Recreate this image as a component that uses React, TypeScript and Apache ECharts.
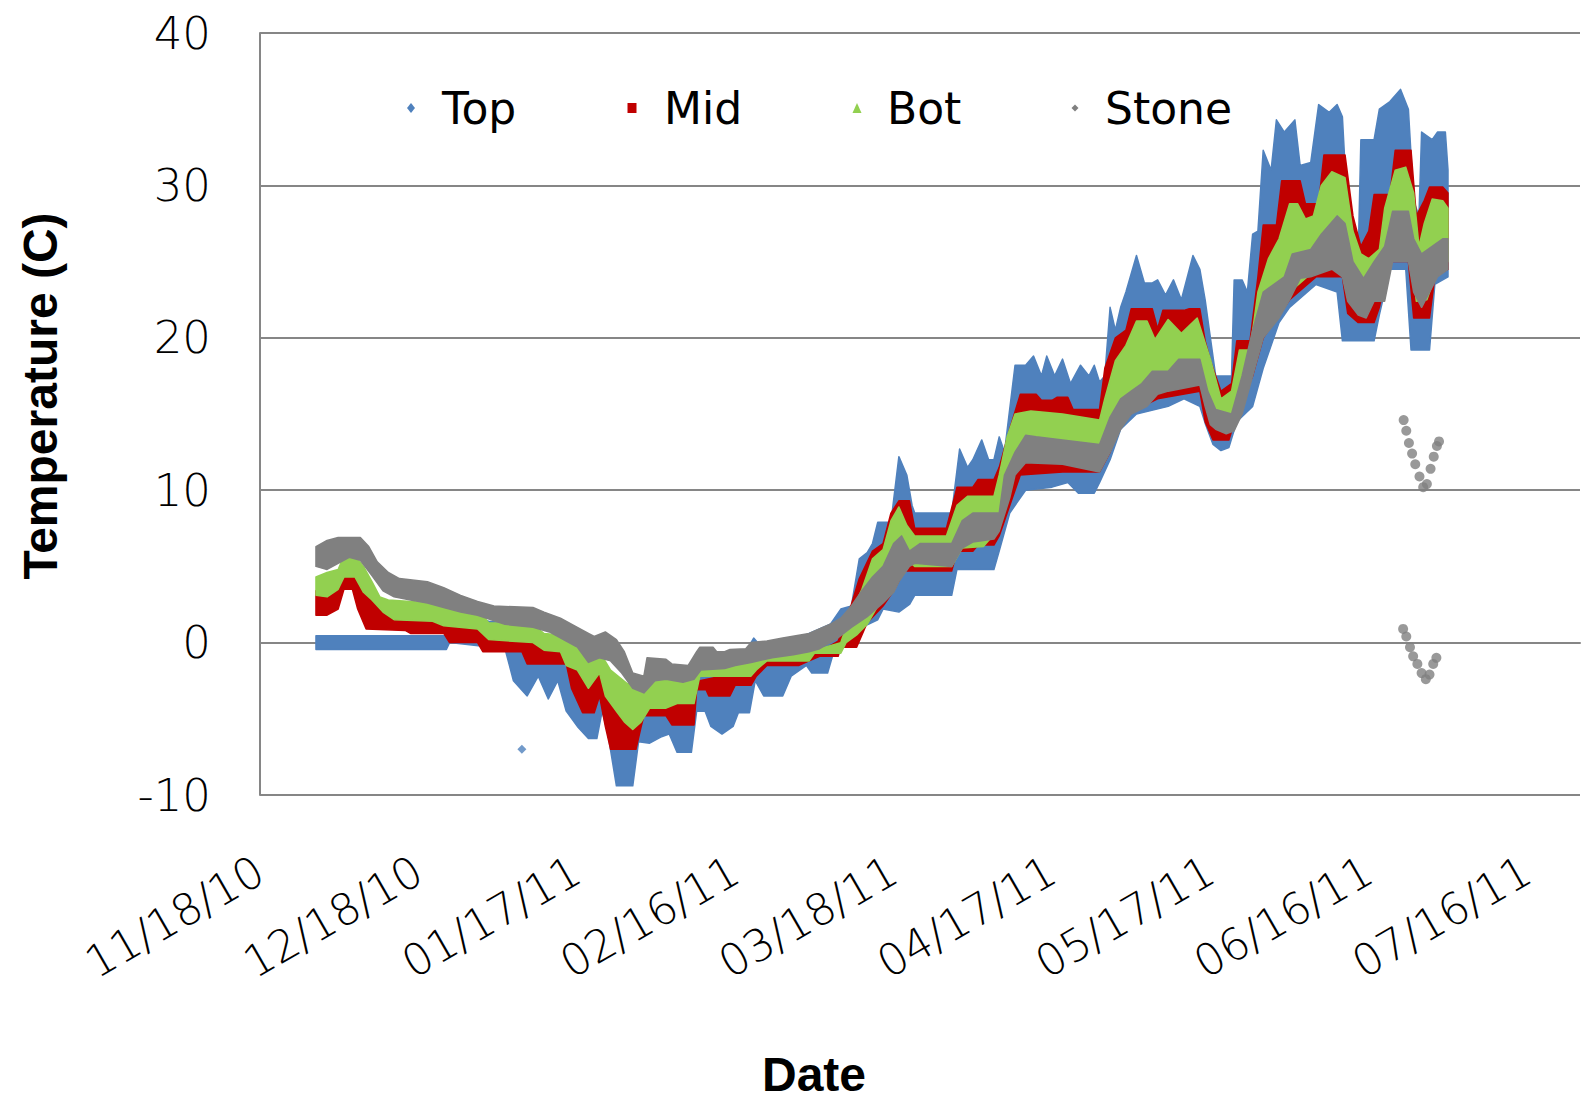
import React, { useEffect, useRef } from "react";
import * as echarts from "echarts";

// Day offsets are counted from 11/18/10 (x axis origin).
const startDate = Date.UTC(2010, 10, 18);
const xTickDays = [0, 30, 60, 90, 120, 150, 180, 210, 240];
const yTicks = [-10, 0, 10, 20, 30, 40];
const seriesNames = ["Top", "Mid", "Bot", "Stone"];
const seriesColors = ["#4F81BD", "#C00000", "#92D050", "#808080"];

// Visible outer edges of each dense series band: [day, temperature C]
const topUpper = [
  [10.6, 0.45], [35.3, 0.45], [35.9, 2.1], [40.1, 1.8], [43.3, 1.4], [46.4, 1.3], [48.5, 0.5], [52.7, 0.5],
  [56.9, 0], [60.1, -1], [63.3, -2], [65.4, -2], [67.5, -3], [70.6, -4], [73.8, -3], [79, -3], [83.3, -2],
  [87, -1.5], [92, -0.6], [93.5, 0.3], [95, -0.3], [100, 0], [104, 0.6], [108, 1.2], [110, 2.2], [112, 2.4],
  [113.5, 5.5], [115, 5.9], [116, 6.5], [117, 7.9], [119.5, 7.9], [121, 12.2], [122.5, 11], [123.5, 9], [124, 8.5],
  [131, 8.5], [132.5, 12.7], [134, 11.5], [135, 12], [136.7, 13.3], [138, 12], [139, 12], [140, 13.5], [141, 12.5],
  [143, 18.2], [145, 18.2], [146.5, 18.8], [148, 17.5], [149, 18.8], [150.5, 17.5], [152, 18.6], [153.5, 17],
  [155.4, 18.2], [157, 17.5], [158, 18.2], [159, 17.1], [160, 17.5], [161, 22], [162, 20.5], [163, 22], [164, 23],
  [166, 25.4], [167.5, 23.6], [169, 23.6], [170, 23.8], [171.5, 22.8], [173, 23.8], [174.5, 22.5], [176.7, 25.4],
  [178, 24.5], [179, 22.5], [180, 20], [181, 17.5], [184, 17.5], [184.5, 23.8], [186, 23.8], [187, 23], [188, 26.8],
  [189, 27], [190, 32.3], [191.5, 31], [192.5, 34.3], [194, 33.5], [196, 34.3], [197, 31.3], [199, 31.5],
  [200.5, 35.3], [202.5, 34.8], [204, 35.3], [205, 34.5], [206, 28], [206.5, 25.5], [208, 25.5], [208.5, 33],
  [211, 33], [212, 35], [214, 35.5], [216, 36.3], [217.5, 35], [218.5, 29], [219.5, 28], [220, 33.5], [222, 33],
  [223, 33.5], [224.5, 33.5], [225, 31],
];
const topLower = [
  [10.6, -0.45], [35.3, -0.45], [35.9, 0], [46.4, -0.4], [48, -2.5], [50.6, -3.5], [52.7, -2.2], [54.6, -3.7],
  [56.4, -2.5], [58, -4.5], [60.1, -5.5], [62.2, -6.3], [63.8, -6.3], [64.8, -4.5], [65.9, -6], [67.5, -9.4],
  [70.6, -9.4], [71.7, -6.5], [73.8, -6.6], [75.9, -6.2], [77.5, -6], [79, -7.2], [81.7, -7.2], [82.7, -4.5],
  [84.3, -4.5], [85.4, -5.5], [87.5, -6], [89.6, -5.5], [90.6, -4.6], [92.7, -4.6], [93.8, -2.5], [95.4, -3.5],
  [99, -3.5], [100.6, -2.2], [103.5, -1.5], [104.5, -2], [107.5, -2], [108.5, -0.8], [110, -0.3], [112, 0.5],
  [114, 1], [117, 1.5], [118, 2.2], [121, 2], [123, 2.5], [124, 3.1], [131, 3.1], [132, 4.8], [139, 4.8], [140, 6],
  [142, 8.5], [145, 10], [150, 10.2], [153, 10.5], [155, 9.8], [158, 9.8], [159, 10.5], [161, 12], [163, 14],
  [166, 15], [172, 15.5], [175, 16], [178, 15.5], [179, 14.4], [180.5, 13], [182, 12.6], [183.5, 12.8], [185, 14.5],
  [188, 15.5], [190, 18], [193, 21], [195, 22], [200, 23.5], [204, 23], [205, 19.8], [211, 19.8], [212, 21.5],
  [214, 24.5], [217, 24.5], [218, 19.2], [221.5, 19.2], [222.5, 23.5], [225, 24],
];
const midUpper = [
  [10.6, 3.4], [12.7, 3.3], [14.8, 3.8], [15.9, 4.4], [18, 4.4], [19.6, 3.6], [21.2, 3], [23.3, 2.2], [25.4, 1.8],
  [32.7, 1.6], [34.8, 1.3], [41.2, 1.1], [43.3, 0.5], [51.7, 0.3], [53.8, -0.2], [56.9, -0.3], [58, -1.2],
  [60.1, -1.5], [62.2, -2.7], [64.3, -1.5], [65.4, -3.2], [67.5, -4.2], [69.6, -5], [72.2, -4.9], [73.8, -4],
  [76.9, -4], [82.2, -3.7], [83.3, -2.5], [86, -2.3], [93, -2.2], [95.5, -1.2], [102, -1.1], [106, -0.6],
  [109.5, 0.1], [112, 2.5], [113.5, 4.2], [116, 6], [118, 6.5], [119.5, 8.5], [121, 9.3], [123, 9.3], [124, 7.5],
  [130, 7.5], [131.5, 9.5], [132, 10.2], [135, 10.2], [136, 10.7], [139, 10.7], [140, 11.5], [142, 14], [144, 16.3],
  [147, 16.3], [148, 15.9], [150, 15.9], [151, 16.1], [153, 16.1], [154, 15.3], [159, 15.3], [160, 18], [162, 20],
  [164, 20.5], [165, 21.9], [169, 21.9], [170, 20.6], [171, 21.8], [175, 21.8], [176, 21.9], [178, 21.9],
  [179, 19.8], [180, 18.5], [182, 16.5], [184, 17], [185, 19.8], [187.5, 19.8], [189, 24], [190, 27.4],
  [192.5, 27.4], [193.5, 30.3], [197, 30.3], [198, 28.8], [200.5, 28.8], [201.5, 32], [205.5, 32], [207, 28],
  [208.5, 26], [210, 27], [211, 29.4], [214, 29.4], [215, 32.3], [218, 32.3], [219, 28], [220.5, 29], [221.5, 29.9],
  [224, 29.9], [225, 29.5],
];
const midLower = [
  [10.6, 1.8], [12.7, 1.8], [14.8, 2.2], [15.9, 3.5], [17.5, 3.5], [18.5, 2.2], [20.1, 0.9], [27.5, 0.8],
  [28.5, 0.6], [34.8, 0.6], [35.9, 0], [41.2, 0], [42.2, -0.6], [49.6, -0.6], [50.6, -1.4], [58, -1.4], [59, -3],
  [61.1, -4.6], [63.3, -4.6], [64.3, -3.5], [65.4, -5.5], [66.4, -7], [71.2, -7], [72.2, -5.5], [72.7, -4.8],
  [76.9, -4.8], [78, -5.4], [82.2, -5.4], [82.7, -3.1], [84.5, -3.1], [85, -3.5], [89, -3.5], [90, -2.8], [93, -2.8],
  [94, -2.2], [96, -1.5], [102, -1.5], [104, -1.2], [106, -0.9], [109.5, -0.9], [110, -0.3], [113, -0.3], [115, 1.3],
  [118, 2.4], [120, 3.4], [122, 4.7], [131, 4.7], [132, 6], [135, 6], [136, 6.4], [139, 6.4], [140, 7], [142, 9],
  [144, 11], [152, 11.2], [159, 11.2], [161, 12.5], [163, 14.5], [166, 15.3], [170, 16], [178, 16.5], [179, 14.5],
  [180.5, 13.3], [183.5, 13.3], [185, 15], [188, 17.5], [190, 20], [195, 22.5], [200, 24], [205, 24], [206, 21.6],
  [208, 21], [211, 21], [212, 22], [214, 25], [217.5, 25], [218.5, 21.3], [221.5, 21.3], [222.5, 24], [225, 24.5],
];
const botUpper = [
  [10.6, 4.3], [12.7, 4.6], [14.8, 4.8], [15.9, 5.7], [18, 5.7], [19.6, 5], [21.2, 4], [22.7, 3], [24.3, 2.8],
  [32.7, 2.6], [34.8, 2.3], [41.2, 2.2], [43.3, 1.3], [51.7, 1.2], [53.8, 0.6], [56.9, 0.5], [59, 0], [60.1, -0.4],
  [62.2, -0.9], [64.3, -0.6], [66.4, -1.8], [69.6, -2.7], [71.7, -2.4], [73.8, -1.9], [76.9, -2], [80.1, -2.2],
  [83.3, -1.7], [86, -1.6], [92, -1.3], [96, -0.9], [104, -0.6], [110, 0], [112, 2], [114, 3.5], [116, 5.5],
  [118, 6.1], [119.5, 8], [121, 8.9], [122.5, 7.7], [124, 7], [130, 7], [132, 9], [134, 9.6], [139, 9.6], [140, 11],
  [141.5, 13.5], [143, 15], [146, 15.2], [152, 15], [159, 14.6], [160, 16], [162, 18.5], [164, 19.5], [166, 21.1],
  [168, 21.1], [169.5, 19.9], [172, 21.2], [174.5, 20.3], [177.5, 21.3], [180, 18.6], [182, 16], [184, 16.5],
  [185.5, 19.2], [187.5, 19.2], [189, 23], [191, 25.2], [193, 26.5], [195, 28.8], [196.5, 28.8], [198, 27.8],
  [199.5, 28], [201, 30], [203, 30.9], [205.5, 30.5], [207, 27], [208.5, 25.5], [210, 25.2], [212, 25.8], [213, 28.5],
  [215, 31], [217, 31.2], [218.5, 29.5], [219.5, 26], [220.5, 27.5], [222, 29.1], [224, 29], [225, 28.5],
];
const botLower = [
  [10.6, 3.1], [12.7, 3], [14.8, 3.5], [15.9, 4.3], [18, 4.3], [19.6, 3.3], [21.2, 2.8], [23.3, 2], [25.4, 1.5],
  [32.7, 1.4], [34.8, 1.1], [41.2, 0.9], [43.3, 0.2], [51.7, 0], [53.8, -0.5], [56.9, -0.6], [58, -1.5],
  [60.1, -1.8], [62.2, -3], [64.3, -2], [65.4, -3.5], [67.5, -4.5], [69, -5.2], [70.6, -5.7], [72.2, -5.2],
  [73.8, -4.3], [76.9, -4.3], [79, -4], [82.2, -4], [83.3, -2.2], [93, -2.2], [94, -1.8], [96, -1.2], [104, -1.2],
  [105, -0.7], [110, -0.7], [111, 0], [113, 0.5], [115, 1.2], [118, 3], [120, 4], [121, 4.8], [123, 5.3], [124, 5],
  [131, 5], [133, 6.2], [137, 6.3], [140, 7.5], [142, 10], [143, 11.5], [145, 12.5], [159, 12], [161, 13.5],
  [163, 15], [165, 15.5], [170, 16.5], [178, 17], [180, 14.8], [183, 14.2], [185, 15.5], [188, 18], [190, 21],
  [195, 23], [200, 24.5], [205, 24.5], [207, 22.5], [209.5, 22.4], [212, 22.4], [214, 25], [218, 25.5], [219, 22.4],
  [221, 22.5], [223, 24.5], [225, 25],
];
const stoneUpper = [
  [10.6, 6.3], [12.7, 6.7], [14.8, 6.9], [19, 6.9], [20.6, 6.3], [22.2, 5.3], [24.3, 4.6], [26.4, 4.2], [31.7, 4],
  [34.8, 3.6], [38, 3.1], [41.2, 2.7], [44.3, 2.4], [51.7, 2.3], [53.8, 2], [56.9, 1.6], [60.1, 1], [62.2, 0.6],
  [63.3, 0.4], [65.4, 0.7], [67.5, 0.2], [69, -0.6], [70.6, -2], [72.7, -2.2], [73.3, -1], [76.9, -1.1], [78, -1.4],
  [81.1, -1.5], [82.7, -0.6], [83.3, -0.3], [85.8, -0.3], [86.5, -0.6], [88, -0.6], [89, -0.45], [92, -0.4], [93, 0],
  [96, 0.1], [99, 0.3], [104, 0.6], [108, 1.2], [110, 1.6], [112, 2.4], [114, 3.4], [116, 4.3], [118, 5], [120, 6.5],
  [121.5, 7], [123, 6], [125, 6.5], [131, 6.5], [133, 8], [135, 8.5], [140, 8.5], [141, 11], [143, 12.5], [145, 13.6],
  [147, 13.5], [152, 13.3], [159, 13], [161, 14.8], [163, 16], [165, 16.5], [167, 17], [169, 17.8], [172, 17.8],
  [174, 18.6], [178, 18.6], [179.5, 16.5], [181, 15.3], [184, 15], [186, 17.5], [188, 20.5], [190, 23], [194, 24],
  [195.5, 25.5], [199, 25.8], [201, 26.8], [204, 28], [205.5, 27.5], [207, 25], [209, 23.9], [211, 25], [213, 26],
  [214.5, 28.3], [217.5, 28.3], [218.5, 26.5], [220, 25.5], [222, 26], [224, 26.5], [225, 26.5],
];
const stoneLower = [
  [10.6, 5], [12.7, 4.8], [14.8, 5.2], [16.9, 5.6], [19, 5.4], [21.2, 4.4], [23.3, 3.4], [25.4, 3], [28.5, 2.8],
  [31.7, 2.6], [34.8, 2.3], [38, 2], [41.2, 1.8], [46.4, 1.2], [51.7, 1], [54.8, 0.7], [58, 0.1], [60.1, -0.3],
  [62.2, -1.3], [64.3, -1], [66.4, -1.2], [68.5, -2], [70.6, -3], [72.7, -3.3], [74.8, -2.5], [76.9, -2.4],
  [80.1, -2.6], [82.2, -2.4], [83.5, -1.8], [88, -1.7], [90, -1.5], [93, -1.3], [97, -1], [101, -0.8], [104, -0.6],
  [106, -0.4], [109, 0.2], [112, 1], [115, 1.7], [118, 2.6], [120, 3.3], [121, 4], [123, 5], [124, 5.2], [131, 5],
  [133, 6.2], [135, 6.6], [139, 6.8], [140, 7.3], [142, 9.5], [143, 11], [145, 11.8], [152, 11.7], [159, 11.2],
  [161, 12.5], [163, 14], [165, 15], [168, 15.5], [170, 16.3], [172, 16.5], [178, 16.9], [179, 15.5], [180, 14.3],
  [181, 14], [183, 13.7], [184.5, 13.9], [186, 15], [188, 17.5], [190, 20], [193, 21.3], [195, 22.5], [197, 23.9],
  [199, 24], [203, 24.5], [205, 24], [206, 22.4], [208, 21.5], [209.5, 21.3], [211, 22.4], [213, 22.4], [214.5, 25],
  [217.5, 25], [218.5, 23], [220, 22], [221.5, 23], [223, 24], [225, 24.5],
];
// Isolated points
const topOutliers = [[49.6, -7.0]];
const stoneOutliers = [
  [216.6, 14.6], [217.1, 13.9], [217.6, 13.1], [218.2, 12.4], [218.8, 11.7], [219.6, 10.9], [220.3, 10.2],
  [221, 10.4], [221.7, 11.4], [222.3, 12.2], [222.9, 12.9], [223.3, 13.2],
  [216.5, 0.9], [217.1, 0.4], [217.8, -0.3], [218.4, -0.9], [219.2, -1.4], [220, -2], [220.8, -2.4], [221.5, -2.1],
  [222.2, -1.4], [222.8, -1.0],
];

const bands = [
  { upper: topUpper, lower: topLower },
  { upper: midUpper, lower: midLower },
  { upper: botUpper, lower: botLower },
  { upper: stoneUpper, lower: stoneLower },
];

const pad2 = (n: number) => (n < 10 ? "0" : "") + n;
const fmtDay = (v: number) => {
  if (xTickDays.indexOf(v) < 0) return "";
  const d = new Date(startDate + v * 86400000);
  return pad2(d.getUTCMonth() + 1) + "/" + pad2(d.getUTCDate()) + "/" + pad2(d.getUTCFullYear() % 100);
};

function bandSeries(i: number) {
  const { upper, lower } = bands[i];
  const pts = upper.concat(lower.slice().reverse());
  const color = seriesColors[i];
  return {
    type: "custom",
    name: seriesNames[i],
    coordinateSystem: "cartesian2d",
    data: pts,
    encode: { x: 0, y: 1 },
    itemStyle: { color },
    silent: true,
    z: 2 + i,
    renderItem: (params: any, api: any) => {
      if (params.dataIndex !== 0) return null;
      const points = pts.map((p) => api.coord(p));
      return {
        type: "polygon",
        shape: { points },
        style: { fill: color, stroke: color, lineWidth: 1.5, lineJoin: "round" },
      };
    },
  };
}

const legendIcons = ["diamond", "rect", "triangle", "diamond"];
const legendSizes = [[8, 10], [9, 10], [9, 10], [7, 7]];
const legendCenters = [411, 632, 857, 1075];
const legendTextStarts = [442, 664, 887, 1105];

export default function App() {
  const ref = useRef<HTMLDivElement>(null);
  useEffect(() => {
    if (!ref.current) return;
    const chart = echarts.init(ref.current, undefined, { renderer: "svg" });
    const gridColor = "#868686";
    const legends = seriesNames.map((name, i) => {
      const [w, h] = legendSizes[i];
      return {
        data: [{ name, icon: legendIcons[i] }],
        left: legendCenters[i] - w / 2,
        top: 108 - 25,
        padding: 0,
        itemWidth: w,
        itemHeight: h,
        selectedMode: false,
        textStyle: {
          fontFamily: "DejaVu Sans",
          fontSize: 44,
          fontWeight: 400,
          color: "#000",
          lineHeight: 50,
          padding: [0, 0, 0, legendTextStarts[i] - (legendCenters[i] + w / 2) - 5],
        },
      };
    });
    chart.setOption({
      animation: false,
      backgroundColor: "#ffffff",
      grid: { left: 260, right: 5, top: 33, bottom: 308, containLabel: false },
      legend: legends,
      xAxis: {
        type: "value",
        min: 0,
        max: 250,
        interval: 30,
        axisLine: { show: true, lineStyle: { color: gridColor, width: 2 } },
        axisTick: { show: false },
        splitLine: { show: false },
        axisLabel: {
          rotate: 30,
          margin: 72,
          formatter: fmtDay,
          fontFamily: "DejaVu Sans",
          fontSize: 44,
          fontWeight: 300,
          color: "#000",
        },
      },
      yAxis: {
        type: "value",
        min: yTicks[0],
        max: yTicks[yTicks.length - 1],
        interval: 10,
        axisLine: { show: true, lineStyle: { color: gridColor, width: 2 } },
        axisTick: { show: false },
        splitLine: { show: true, lineStyle: { color: gridColor, width: 2 } },
        axisLabel: {
          margin: 49,
          fontFamily: "DejaVu Sans",
          fontSize: 45,
          fontWeight: 300,
          color: "#000",
        },
      },
      graphic: [
        {
          type: "text",
          x: 40,
          y: 396,
          rotation: Math.PI / 2,
          style: {
            text: "Temperature (C)",
            font: 'bold 48px "Liberation Sans"',
            fill: "#000",
            align: "center",
            verticalAlign: "middle",
            textAlign: "center",
            textVerticalAlign: "middle",
          },
        },
        {
          type: "text",
          x: 814,
          y: 1074,
          style: {
            text: "Date",
            font: 'bold 48px "Liberation Sans"',
            fill: "#000",
            align: "center",
            verticalAlign: "middle",
            textAlign: "center",
            textVerticalAlign: "middle",
          },
        },
      ],
      series: [
        bandSeries(0),
        {
          type: "scatter",
          name: "Top",
          data: topOutliers,
          symbol: "diamond",
          symbolSize: 9,
          itemStyle: { color: seriesColors[0] },
          z: 2,
          silent: true,
        },
        bandSeries(1),
        bandSeries(2),
        bandSeries(3),
        {
          type: "scatter",
          name: "Stone",
          data: stoneOutliers,
          symbol: "circle",
          symbolSize: 10,
          itemStyle: { color: seriesColors[3] },
          z: 6,
          silent: true,
        },
      ],
    });
    return () => chart.dispose();
  }, []);
  return (
    <div
      ref={ref}
      style={{ position: "absolute", left: 0, top: 0, width: 1585, height: 1103, background: "#fff" }}
    />
  );
}
